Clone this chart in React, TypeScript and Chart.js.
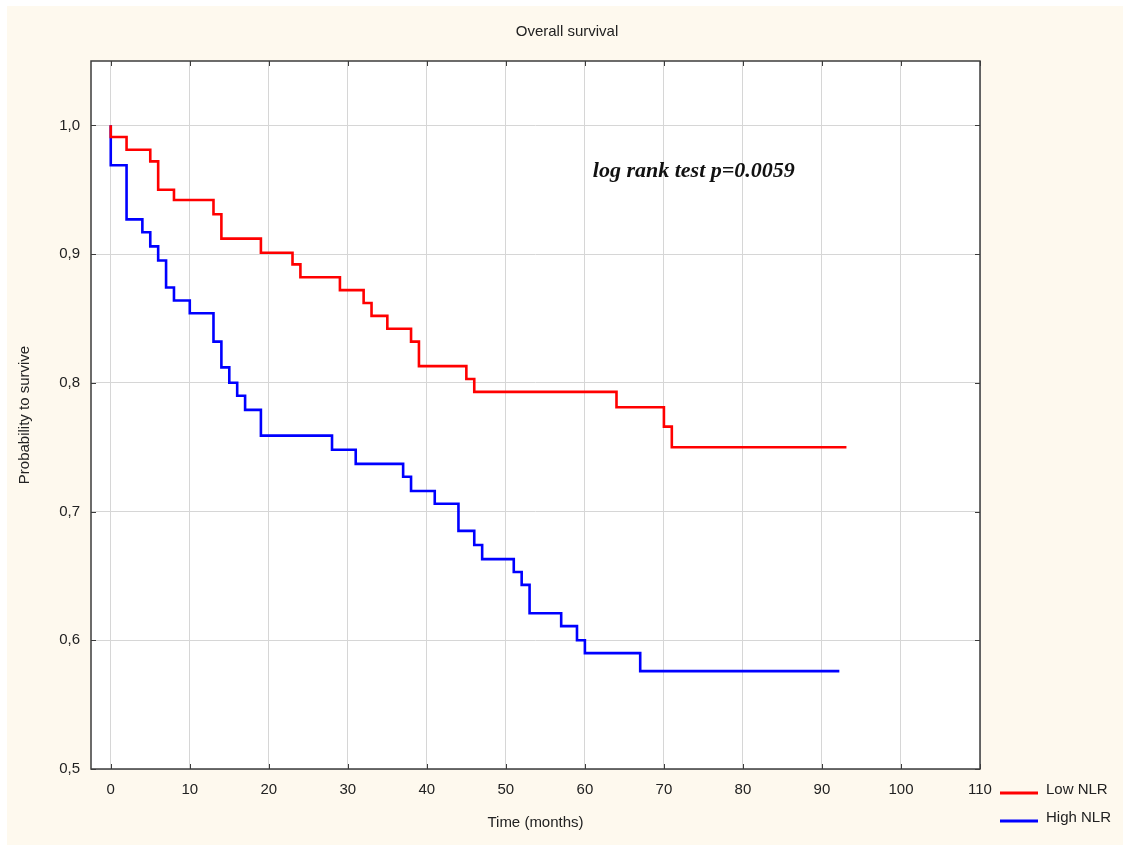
import React, { useEffect, useRef } from 'react';
import { Chart, registerables } from 'chart.js';

Chart.register(...registerables);

// Kaplan–Meier steps: time (months) and survival probability after each event
const lowTimes = [0, 0, 2, 5, 6, 8, 13, 14, 19, 23, 24, 29, 32, 33, 35, 38, 39, 45, 46, 64, 70, 71, 93.1];
const lowSurv = [1.0, 0.991, 0.981, 0.972, 0.95, 0.942, 0.931, 0.912, 0.901, 0.892, 0.882, 0.872, 0.862, 0.852, 0.842, 0.832, 0.813, 0.803, 0.793, 0.781, 0.766, 0.75, 0.75];

const highTimes = [0, 0, 2, 4, 5, 6, 7, 8, 10, 13, 14, 15, 16, 17, 19, 28, 31, 37, 38, 41, 44, 46, 47, 51, 52, 53, 57, 59, 60, 67, 92.2];
const highSurv = [1.0, 0.969, 0.927, 0.917, 0.906, 0.895, 0.874, 0.864, 0.854, 0.832, 0.812, 0.8, 0.79, 0.779, 0.759, 0.748, 0.737, 0.727, 0.716, 0.706, 0.685, 0.674, 0.663, 0.653, 0.643, 0.621, 0.611, 0.6, 0.59, 0.576, 0.576];

const xTicks = [0, 10, 20, 30, 40, 50, 60, 70, 80, 90, 100, 110];
const yTicks = [0.5, 0.6, 0.7, 0.8, 0.9, 1.0];

const seriesLabels = ['Low NLR', 'High NLR'];
const chartTitle = 'Overall survival';
const xTitle = 'Time (months)';
const yTitle = 'Probability to survive';
const annotationText = 'log rank test p=0.0059';
const annotationAt = { x: 61, y: 0.964 };

const CREAM = '#fef9ee';
const TEXT = '#222222';
const SANS = '"Liberation Sans", Arial, sans-serif';

const decorPlugin = {
  id: 'decor',
  beforeDraw(chart: any) {
    const { ctx, chartArea: a } = chart;
    ctx.save();
    ctx.fillStyle = '#ffffff';
    ctx.fillRect(0, 0, chart.width, chart.height);
    ctx.fillStyle = CREAM;
    ctx.fillRect(7, 6, chart.width - 7, chart.height - 6);
    ctx.fillStyle = '#ffffff';
    ctx.fillRect(a.left, a.top, a.right - a.left, a.bottom - a.top);
    ctx.restore();
  },
  beforeDatasetsDraw(chart: any) {
    const { ctx, chartArea: a, scales } = chart;
    ctx.save();
    ctx.strokeStyle = '#3c3c3c';
    ctx.lineWidth = 1.5;
    ctx.strokeRect(a.left, a.top, a.right - a.left, a.bottom - a.top);
    ctx.lineWidth = 1;
    ctx.beginPath();
    const tl = 5;
    xTicks.forEach((v) => {
      const px = Math.round(scales.x.getPixelForValue(v)) + 0.5;
      ctx.moveTo(px, a.bottom);
      ctx.lineTo(px, a.bottom - tl);
      ctx.moveTo(px, a.top);
      ctx.lineTo(px, a.top + tl);
    });
    yTicks.forEach((v) => {
      const py = Math.round(scales.y.getPixelForValue(v)) + 0.5;
      ctx.moveTo(a.left, py);
      ctx.lineTo(a.left + tl, py);
      ctx.moveTo(a.right, py);
      ctx.lineTo(a.right - tl, py);
    });
    ctx.stroke();
    ctx.restore();
  },
  afterDraw(chart: any) {
    const { ctx, scales } = chart;
    ctx.save();
    // title
    ctx.fillStyle = TEXT;
    ctx.font = '15px ' + SANS;
    ctx.textAlign = 'center';
    ctx.textBaseline = 'middle';
    ctx.fillText(chartTitle, 567, 32);
    // annotation
    ctx.font = 'italic bold 22px "Liberation Serif", "Times New Roman", serif';
    ctx.textAlign = 'left';
    ctx.fillStyle = '#111111';
    ctx.fillText(annotationText, scales.x.getPixelForValue(annotationAt.x), scales.y.getPixelForValue(annotationAt.y));
    // legend
    const rows = [793, 821];
    chart.data.datasets.forEach((ds: any, i: number) => {
      const y = rows[i];
      ctx.strokeStyle = ds.borderColor;
      ctx.lineWidth = 3;
      ctx.beginPath();
      ctx.moveTo(1000, y);
      ctx.lineTo(1038, y);
      ctx.stroke();
      ctx.fillStyle = TEXT;
      ctx.font = '15px ' + SANS;
      ctx.textAlign = 'left';
      ctx.textBaseline = 'middle';
      ctx.fillText(ds.label, 1046, y - 3);
    });
    ctx.restore();
  },
};

export default function App() {
  const ref = useRef<HTMLCanvasElement | null>(null);

  useEffect(() => {
    if (!ref.current) return;
    const toPts = (t: number[], s: number[]) => t.map((x, i) => ({ x, y: s[i] }));
    const chart = new Chart(ref.current, {
      type: 'line',
      data: {
        datasets: [
          {
            label: seriesLabels[0],
            data: toPts(lowTimes, lowSurv),
            borderColor: '#ff0000',
            borderWidth: 2.6,
            pointRadius: 0,
            stepped: 'before',
            fill: false,
          },
          {
            label: seriesLabels[1],
            data: toPts(highTimes, highSurv),
            borderColor: '#0000ff',
            borderWidth: 2.6,
            pointRadius: 0,
            stepped: 'before',
            fill: false,
          },
        ],
      },
      options: {
        responsive: false,
        animation: false,
        devicePixelRatio: 1,
        layout: { padding: { top: 61, right: 143, left: 0, bottom: 0 } },
        plugins: {
          legend: { display: false },
          title: { display: false },
          tooltip: { enabled: false },
        },
        scales: {
          x: {
            type: 'linear',
            min: -2.5,
            max: 110,
            afterBuildTicks: (s: any) => {
              s.ticks = xTicks.map((v) => ({ value: v }));
            },
            afterFit: (s: any) => {
              s.height = 76;
            },
            grid: { color: '#d6d6d6', lineWidth: 1, drawTicks: false },
            border: { display: false },
            ticks: {
              autoSkip: false,
              maxRotation: 0,
              color: TEXT,
              font: { family: SANS, size: 15 },
              padding: 12,
              callback: (v: any) => String(v),
            },
            title: {
              display: true,
              text: xTitle,
              color: TEXT,
              font: { family: SANS, size: 15 },
              padding: { top: 0, bottom: 13 },
            },
          },
          y: {
            type: 'linear',
            min: 0.5,
            max: 1.05,
            afterBuildTicks: (s: any) => {
              s.ticks = yTicks.map((v) => ({ value: v }));
            },
            afterFit: (s: any) => {
              s.width = 91;
            },
            grid: { color: '#d6d6d6', lineWidth: 1, drawTicks: false },
            border: { display: false },
            ticks: {
              autoSkip: false,
              color: TEXT,
              font: { family: SANS, size: 15 },
              padding: 11,
              callback: (v: any) => Number(v).toFixed(1).replace('.', ','),
            },
            title: {
              display: true,
              text: yTitle,
              color: TEXT,
              font: { family: SANS, size: 15 },
              padding: { top: 16, bottom: 0 },
            },
          },
        },
      },
      plugins: [decorPlugin],
    } as any);
    return () => chart.destroy();
  }, []);

  return (
    <div style={{ position: 'absolute', left: 0, top: 0, width: 1123, height: 845 }}>
      <canvas ref={ref} width={1123} height={845} style={{ display: 'block', width: 1123, height: 845 }} />
    </div>
  );
}
